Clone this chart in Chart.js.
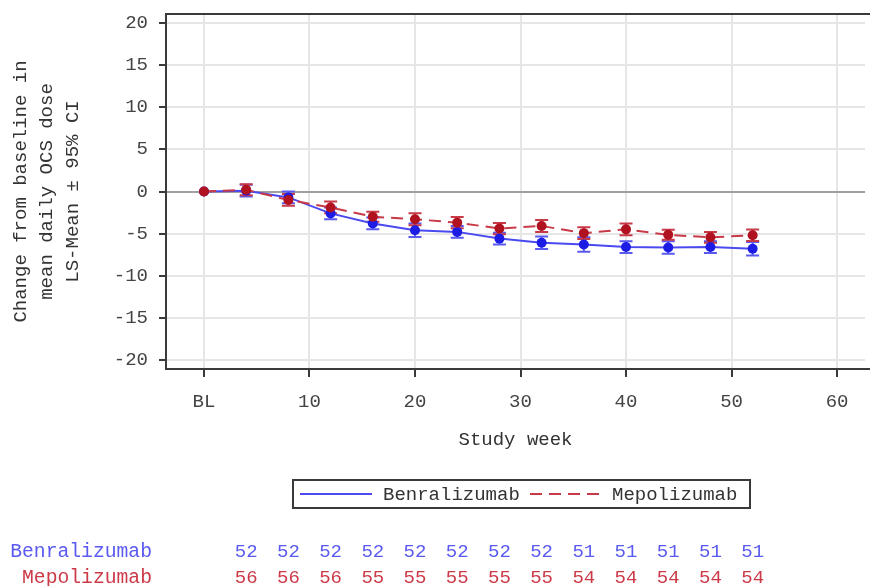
<!DOCTYPE html>
<html>
<head>
<meta charset="utf-8">
<script src="https://cdn.jsdelivr.net/npm/chart.js@4/dist/chart.umd.min.js"></script>
<style>
body { margin: 0; background: #fff; }
#wrap { width: 870px; height: 586px; }
</style>
</head>
<body>
<div id="wrap"><canvas id="ocsChart" width="870" height="586"></canvas></div>
<script>
var weeks = [0, 4, 8, 12, 16, 20, 24, 28, 32, 36, 40, 44, 48, 52];

// LS-mean change and half width of the 95% CI
var benraMean = [0, 0.1, -0.7, -2.6, -3.8, -4.6, -4.8, -5.6, -6.1, -6.3, -6.6, -6.65, -6.6, -6.8];
var benraCI   = [0, 0.7, 0.7, 0.7, 0.7, 0.8, 0.7, 0.7, 0.75, 0.85, 0.7, 0.75, 0.7, 0.8];
var mepoMean  = [0, 0.2, -1.0, -1.9, -3.0, -3.3, -3.7, -4.4, -4.1, -4.95, -4.5, -5.15, -5.45, -5.2];
var mepoCI    = [0, 0.65, 0.7, 0.7, 0.6, 0.7, 0.67, 0.67, 0.7, 0.7, 0.7, 0.6, 0.63, 0.68];

// patients at risk
var riskWeeks = [4, 8, 12, 16, 20, 24, 28, 32, 36, 40, 44, 48, 52];
var benraRisk = [52, 52, 52, 52, 52, 52, 52, 52, 51, 51, 51, 51, 51];
var mepoRisk  = [56, 56, 56, 55, 55, 55, 55, 55, 54, 54, 54, 54, 54];

var yTicks = [-20, -15, -10, -5, 0, 5, 10, 15, 20];
var xTicks = [0, 10, 20, 30, 40, 50, 60];

var MONO = '"Liberation Mono", "DejaVu Sans Mono", monospace';
var BLUE = '#1c1ce4', BLUE_LINE = '#4a4af0', BLUE_TXT = '#5a5af0';
var RED = '#b0121f', RED_LINE = '#c83a48', RED_TXT = '#cc3a48';

function toPoints(vals) {
    var pts = [];
    for (var i = 0; i < weeks.length; i++) pts.push({x: weeks[i], y: vals[i]});
    return pts;
}

// CI whiskers with caps, drawn under the markers
var errorBars = {
    id: 'errorBars',
    beforeDatasetsDraw: function(chart) {
        var ctx = chart.ctx, xs = chart.scales.x, ys = chart.scales.y;
        chart.data.datasets.forEach(function(ds) {
            ctx.save();
            ctx.strokeStyle = ds.ciColor;
            ctx.lineWidth = 2;
            for (var i = 0; i < ds.data.length; i++) {
                var h = ds.ci[i];
                if (!h) continue;
                var x = xs.getPixelForValue(ds.data[i].x);
                var y1 = ys.getPixelForValue(ds.data[i].y + h);
                var y2 = ys.getPixelForValue(ds.data[i].y - h);
                ctx.beginPath();
                ctx.moveTo(x, y1); ctx.lineTo(x, y2);
                ctx.moveTo(x - 6.5, y1); ctx.lineTo(x + 6.5, y1);
                ctx.moveTo(x - 6.5, y2); ctx.lineTo(x + 6.5, y2);
                ctx.stroke();
            }
            ctx.restore();
        });
    }
};

// plot frame, legend box and at-risk rows
var extras = {
    id: 'extras',
    beforeDatasetsDraw: function(chart) {
        var ctx = chart.ctx, a = chart.chartArea;
        ctx.save();
        ctx.strokeStyle = '#3a3a3a';
        ctx.lineWidth = 2;
        ctx.beginPath();
        ctx.moveTo(chart.width, a.top);
        ctx.lineTo(a.left, a.top);
        ctx.lineTo(a.left, a.bottom);
        ctx.lineTo(chart.width, a.bottom);
        ctx.stroke();
        ctx.restore();
    },
    afterDraw: function(chart) {
        var ctx = chart.ctx, xs = chart.scales.x;
        ctx.save();
        ctx.font = '19px ' + MONO;
        ctx.textBaseline = 'middle';

        // legend
        ctx.strokeStyle = '#3a3a3a';
        ctx.lineWidth = 2;
        ctx.strokeRect(293, 480, 457, 28);
        ctx.strokeStyle = BLUE_LINE;
        ctx.beginPath(); ctx.moveTo(300, 494); ctx.lineTo(372, 494); ctx.stroke();
        ctx.strokeStyle = RED_LINE;
        ctx.setLineDash([12, 7]);
        ctx.beginPath(); ctx.moveTo(530, 494); ctx.lineTo(601, 494); ctx.stroke();
        ctx.setLineDash([]);
        ctx.fillStyle = '#333';
        ctx.textAlign = 'left';
        ctx.fillText('Benralizumab', 383, 495);
        ctx.fillText('Mepolizumab', 612, 495);

        // numbers at risk
        ctx.font = '19.7px ' + MONO;
        ctx.textAlign = 'right';
        ctx.fillStyle = BLUE_TXT;
        ctx.fillText('Benralizumab', 152, 552);
        ctx.fillStyle = RED_TXT;
        ctx.fillText('Mepolizumab', 152, 578);
        ctx.font = '19px ' + MONO;
        ctx.textAlign = 'center';
        for (var i = 0; i < riskWeeks.length; i++) {
            var x = xs.getPixelForValue(riskWeeks[i]);
            ctx.fillStyle = BLUE_TXT;
            ctx.fillText(String(benraRisk[i]), x, 552);
            ctx.fillStyle = RED_TXT;
            ctx.fillText(String(mepoRisk[i]), x, 578);
        }
        ctx.restore();
    }
};

new Chart(document.getElementById('ocsChart'), {
    type: 'line',
    data: {
        datasets: [
            {
                label: 'Benralizumab',
                data: toPoints(benraMean),
                ci: benraCI,
                ciColor: BLUE_TXT,
                borderColor: BLUE_LINE,
                borderWidth: 2,
                pointRadius: 5,
                pointBorderWidth: 0,
                pointBackgroundColor: BLUE,
                tension: 0,
                order: 1
            },
            {
                label: 'Mepolizumab',
                data: toPoints(mepoMean),
                ci: mepoCI,
                ciColor: RED_LINE,
                borderColor: RED_LINE,
                borderWidth: 2,
                borderDash: [12, 7],
                pointRadius: 5,
                pointBorderWidth: 0,
                pointBackgroundColor: RED,
                tension: 0,
                order: 0
            }
        ]
    },
    options: {
        responsive: false,
        animation: false,
        layout: { padding: { top: 14, right: 0, bottom: 135, left: 0 } },
        plugins: { legend: { display: false }, tooltip: { enabled: false } },
        scales: {
            x: {
                type: 'linear',
                min: -3.6,
                max: 62.65,
                afterFit: function(s) { s.height = 82; s.paddingLeft = 0; s.paddingRight = 0; },
                afterBuildTicks: function(s) { s.ticks = xTicks.map(function(v) { return {value: v}; }); },
                ticks: {
                    font: { family: MONO, size: 19 },
                    color: '#444',
                    padding: 14,
                    maxRotation: 0,
                    callback: function(v) { return v === 0 ? 'BL' : v; }
                },
                grid: { color: '#e6e6e6', lineWidth: 2, tickColor: '#3a3a3a', tickWidth: 2, tickLength: 8 },
                border: { display: false },
                title: {
                    display: true,
                    text: 'Study week',
                    color: '#333',
                    font: { family: MONO, size: 19, lineHeight: '22px' },
                    padding: { top: 0, bottom: 0 }
                }
            },
            y: {
                min: -21.1,
                max: 21.1,
                afterFit: function(s) { s.width = 166; s.paddingTop = 0; s.paddingBottom = 0; },
                afterBuildTicks: function(s) { s.ticks = yTicks.map(function(v) { return {value: v}; }); },
                ticks: {
                    font: { family: MONO, size: 19 },
                    color: '#444',
                    padding: 11
                },
                grid: {
                    color: function(c) { return c.tick && c.tick.value === 0 ? '#a0a0a0' : '#e6e6e6'; },
                    lineWidth: 2,
                    tickColor: '#3a3a3a',
                    tickWidth: 2,
                    tickLength: 7
                },
                border: { display: false },
                title: {
                    display: true,
                    text: ['Change from baseline in', 'mean daily OCS dose', 'LS-Mean \u00b1 95% CI'],
                    color: '#333',
                    font: { family: MONO, size: 19, lineHeight: '26px' },
                    padding: { top: 8, bottom: 0 }
                }
            }
        }
    },
    plugins: [errorBars, extras]
});
</script>
</body>
</html>
